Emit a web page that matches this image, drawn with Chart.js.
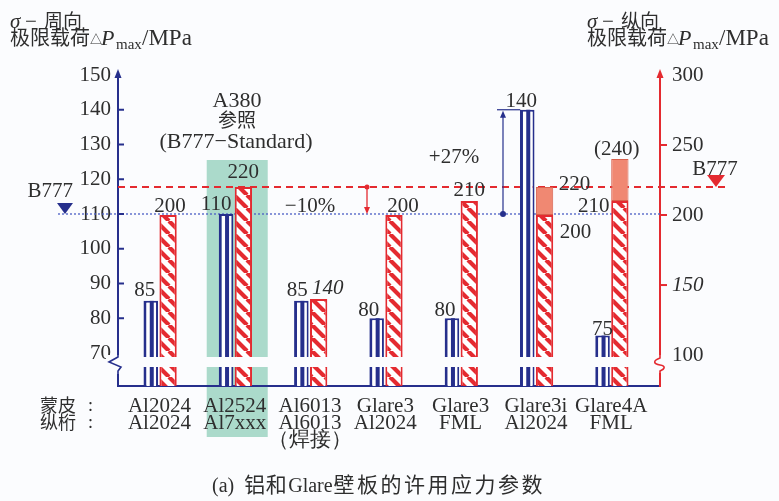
<!DOCTYPE html>
<html><head><meta charset="utf-8">
<script src="https://cdn.jsdelivr.net/npm/chart.js@4.4.1/dist/chart.umd.min.js"></script>
<style>html,body{margin:0;padding:0;background:#fbfcfe;}#wrap{width:779px;height:501px;}</style>
</head><body><div id="wrap"><canvas id="c" width="779" height="501"></canvas></div>
<script>
// ---- data ----
const skin = ['Al2024','Al2524','Al6013','Glare3','Glare3','Glare3i','Glare4A'];
const stringer = ['Al2024','Al7xxx','Al6013','Al2024','FML','Al2024','FML'];
const note = ['','','（焊接）','','','',''];
const hoopStress = [85,110,85,80,80,140,75];            // σ-周向 (left axis)
const longStress = [200,220,140,200,210,200,210];       // σ-纵向 (right axis)
const longPotential = [null,null,null,null,null,220,240]; // shaded upper values
const leftTicks = [70,80,90,100,110,120,130,140,150];
const rightTicks = [100,150,200,250,300];
const refHoop = 110;   // B777 周向
const refLong = 220;   // B777 纵向

// ---- styles ----
const BG='#fbfcfe', NAVY='#262f8c', RED='#e42a30', SALMON='#f08872', GREEN='#abdacb', TXT='#2e2e2e';
const SERIF='"Liberation Serif","Times New Roman",serif';
const CJK='"Noto Sans CJK SC","Noto Sans CJK JP",sans-serif';

const canvas=document.getElementById('c');
const c2d=canvas.getContext('2d');
function makeHatch(){
  const s=13, t=document.createElement('canvas'); t.width=s; t.height=s;
  const g=t.getContext('2d'); g.fillStyle='#fff'; g.fillRect(0,0,s,s);
  g.strokeStyle=RED; g.lineWidth=4.2; g.beginPath();
  for(let k=-1;k<=1;k++){ g.moveTo(k*s,0); g.lineTo(k*s+s,s); }
  g.stroke(); return c2d.createPattern(t,'repeat');
}
const hatch=makeHatch();

function txt(ctx,t,x,y,font,align,color){ctx.font=font;ctx.textAlign=align||'left';ctx.textBaseline='alphabetic';ctx.fillStyle=color||TXT;ctx.fillText(t,x,y);}
function runs(ctx,x,y,parts){ctx.textAlign='left';ctx.textBaseline='alphabetic';ctx.fillStyle=TXT;
  for(const p of parts){ctx.font=p[1];
    if(p[4]){for(const ch of p[0]){ctx.fillText(ch,x,y+(p[2]||0));x+=p[4];}}
    else{ctx.fillText(p[0],x,y+(p[2]||0));x+=ctx.measureText(p[0]).width;}
    x+=(p[3]||0);}}

const blueLab=[[-6,-5],[-10,-4],[-4,-5],[-8,-2],[-7,-2],[-6,-3],[0,-1]];
const redLab=[[2,-3],[0,-9],[9,-5],[9,-3],[0,-5],[31,23],[-26,11]];
const extLab={5:[30,3,false],6:[-3,-4,true]};

const deco={
  id:'deco',
  beforeDraw(chart){
    const {ctx}=chart; const xs=chart.scales.x;
    ctx.save(); ctx.fillStyle=BG; ctx.fillRect(0,0,chart.width,chart.height);
    const p=xs.getPixelForValue(1);
    ctx.fillStyle=GREEN; ctx.fillRect(p-28,160,61,277);
    ctx.restore();
  },
  beforeDatasetsDraw(chart){
    const {ctx,chartArea:a}=chart; const y=chart.scales.y, y2=chart.scales.y2;
    ctx.save();
    const yb=y.getPixelForValue(refHoop);
    ctx.strokeStyle='#4b5fc4'; ctx.lineWidth=1.3; ctx.setLineDash([2,2]);
    ctx.beginPath(); ctx.moveTo(58,yb); ctx.lineTo(a.right,yb); ctx.stroke();
    const yr=y2.getPixelForValue(refLong);
    ctx.strokeStyle=RED; ctx.lineWidth=2; ctx.setLineDash([7,5]);
    ctx.beginPath(); ctx.moveTo(a.left,yr); ctx.lineTo(726,yr); ctx.stroke();
    ctx.restore();
  },
  afterDatasetsDraw(chart){
    const {ctx,chartArea:a}=chart; const y=chart.scales.y, y2=chart.scales.y2;
    const m0=chart.getDatasetMeta(0), m1=chart.getDatasetMeta(1), m2=chart.getDatasetMeta(2);
    ctx.save();
    // inner stripe of blue bars
    ctx.fillStyle=NAVY;
    m0.data.forEach(el=>{ ctx.fillRect(el.x-1, el.y, 4, a.bottom-el.y); });
    // axis break band
    ctx.fillStyle=BG; ctx.fillRect(a.left+1,357,a.right-a.left-2,10);
    // left axis break
    ctx.fillRect(106,355,18,19);
    ctx.strokeStyle=NAVY; ctx.lineWidth=1.6; ctx.beginPath();
    ctx.moveTo(a.left,354); ctx.lineTo(a.left,357); ctx.lineTo(109,362); ctx.lineTo(121,367); ctx.lineTo(a.left,371); ctx.lineTo(a.left,374); ctx.stroke();
    // right axis break
    ctx.fillStyle=BG; ctx.fillRect(652,355,16,18);
    ctx.strokeStyle=RED; ctx.beginPath();
    ctx.moveTo(a.right,354); ctx.lineTo(a.right,358);
    ctx.bezierCurveTo(652,361,654,364,a.right,365); ctx.bezierCurveTo(666,366,665,369,a.right,371); ctx.lineTo(a.right,374); ctx.stroke();
    // axis arrows
    ctx.fillStyle=NAVY; ctx.beginPath(); ctx.moveTo(a.left,69); ctx.lineTo(a.left-3.5,78); ctx.lineTo(a.left+3.5,78); ctx.fill();
    ctx.fillStyle=RED; ctx.beginPath(); ctx.moveTo(a.right,69); ctx.lineTo(a.right-3.5,78); ctx.lineTo(a.right+3.5,78); ctx.fill();
    // tick marks
    ctx.lineWidth=2; ctx.strokeStyle=NAVY;
    leftTicks.forEach(v=>{ if(v>70&&v<150){const py=y.getPixelForValue(v); ctx.beginPath(); ctx.moveTo(a.left,py); ctx.lineTo(a.left+6,py); ctx.stroke();}});
    ctx.strokeStyle=RED;
    rightTicks.forEach(v=>{ if(v>100&&v<300){const py=y2.getPixelForValue(v); ctx.beginPath(); ctx.moveTo(a.right,py); ctx.lineTo(a.right+7,py); ctx.stroke();}});
    // value labels
    const F='21px '+SERIF, FI='italic 21px '+SERIF;
    m0.data.forEach((el,i)=>{ txt(ctx,String(hoopStress[i]),el.x+blueLab[i][0],el.y+blueLab[i][1],F,'center'); });
    m1.data.forEach((el,i)=>{ txt(ctx,String(longStress[i]),el.x+redLab[i][0],el.y+redLab[i][1],i===2?FI:F,'center'); });
    m2.data.forEach((el,i)=>{ const s=extLab[i]; if(!s||longPotential[i]==null) return;
      txt(ctx,s[2]?'('+longPotential[i]+')':String(longPotential[i]),el.x+s[0],el.y+s[1],F,'center'); });
    // reference annotations
    const yb=y.getPixelForValue(refHoop), yr=y2.getPixelForValue(refLong);
    txt(ctx,'A380',237,107,'22px '+SERIF,'center');
    txt(ctx,'参照',237,127,'19px '+CJK,'center');
    txt(ctx,'(B777−Standard)',236,148,'22px '+SERIF,'center');
    txt(ctx,'−10%',310,212,F,'center');
    txt(ctx,'+27%',454,163,F,'center');
    // red arrow
    ctx.strokeStyle=RED; ctx.fillStyle=RED; ctx.lineWidth=1.3;
    ctx.beginPath(); ctx.moveTo(367,yr); ctx.lineTo(367,yb-4); ctx.stroke();
    ctx.beginPath(); ctx.arc(367,yr,2.5,0,Math.PI*2); ctx.fill();
    ctx.beginPath(); ctx.moveTo(367,yb); ctx.lineTo(364,yb-7); ctx.lineTo(370,yb-7); ctx.fill();
    // blue arrow to Glare3i
    const e5=m0.data[5]; const top=e5.y;
    ctx.strokeStyle=NAVY; ctx.fillStyle=NAVY; ctx.lineWidth=1.2;
    ctx.beginPath(); ctx.moveTo(503,yb); ctx.lineTo(503,top+4); ctx.stroke();
    ctx.beginPath(); ctx.moveTo(497,top); ctx.lineTo(e5.x-7,top); ctx.stroke();
    ctx.beginPath(); ctx.arc(503,yb,3,0,Math.PI*2); ctx.fill();
    ctx.beginPath(); ctx.moveTo(503,top+1); ctx.lineTo(500,top+8); ctx.lineTo(506,top+8); ctx.fill();
    // B777 markers
    txt(ctx,'B777',73,197,F,'right');
    ctx.fillStyle=NAVY; ctx.beginPath(); ctx.moveTo(57,203); ctx.lineTo(73,203); ctx.lineTo(65,yb); ctx.fill();
    txt(ctx,'B777',715,175,F,'center');
    ctx.fillStyle=RED; ctx.beginPath(); ctx.moveTo(707,175); ctx.lineTo(725,175); ctx.lineTo(716,yr); ctx.fill();
    ctx.restore();
  },
  afterDraw(chart){
    const {ctx}=chart; ctx.save();
    [[0,'周向'],[577,'纵向']].forEach(([o,w])=>{
      txt(ctx,'σ',10+o,28,'italic 21px '+SERIF);
      txt(ctx,'−',25+o,28,'21px '+SERIF);
      txt(ctx,w,44+o,28,'19px '+CJK);
      txt(ctx,'极限载荷',10+o,45,'20px '+CJK);
      txt(ctx,'△',90+o,44,'12px '+CJK);
      txt(ctx,'P',101+o,45,'italic 22px '+SERIF);
      txt(ctx,'max',116+o,49,'15px '+SERIF);
      txt(ctx,'/MPa',142+o,45,'23px '+SERIF);
    });
    txt(ctx,'蒙皮',40,412,'18px '+CJK); txt(ctx,':',88,411,'18px '+SERIF);
    txt(ctx,'纵桁',40,429,'18px '+CJK); txt(ctx,':',88,428,'18px '+SERIF);
    runs(ctx,212,492,[['(a)','20px '+SERIF,0,10],['铝和','21px '+CJK,0,1,21.5],['Glare','20px '+SERIF,0,1],['壁板的许用应力参数','21px '+CJK,0,0,23.5]]);
    ctx.restore();
  }
};

new Chart(canvas,{
  type:'bar',
  data:{datasets:[
    {label:'σ-周向',data:hoopStress.map((v,i)=>({x:i,y:v})),yAxisID:'y',stack:'hoop',barPercentage:0.84,
     backgroundColor:'#ffffff',borderColor:NAVY,borderWidth:{left:3,right:2,top:2,bottom:0},borderSkipped:'start',clip:0},
    {label:'σ-纵向',data:longStress.map((v,i)=>({x:i,y:v})),yAxisID:'y2',stack:'long',barPercentage:1,
     backgroundColor:hatch,borderColor:RED,borderWidth:{left:2,right:2,top:2,bottom:0},borderSkipped:'start',clip:0},
    {label:'潜力',data:longPotential.map((v,i)=>({x:i,y:v==null?null:v-longStress[i]})),yAxisID:'y2',stack:'long',barPercentage:1,
     backgroundColor:SALMON,borderColor:'#d8604c',borderWidth:1,borderSkipped:false,clip:0}
  ]},
  options:{
    responsive:false,animation:false,devicePixelRatio:1,
    layout:{padding:{top:75,left:0,right:0,bottom:0}},
    plugins:{legend:{display:false},tooltip:{enabled:false}},
    datasets:{bar:{categoryPercentage:0.46}},
    scales:{
      x:{type:'linear',offset:false,min:-0.55,max:6.648,grid:{display:false,drawTicks:false,offset:false},border:{color:NAVY,width:2},
         afterBuildTicks:s=>{s.ticks=skin.map((_,i)=>({value:i}));},
         afterFit:s=>{s.height=115;},
         ticks:{autoSkip:false,maxRotation:0,minRotation:0,padding:12,color:TXT,font:{family:SERIF,size:21,lineHeight:0.81},
           callback:(v)=>{const i=Math.round(v);const l=[skin[i],stringer[i]];if(note[i])l.push(note[i]);return l;}}},
      y:{position:'left',min:60.5,max:150,grid:{display:false,drawTicks:false},border:{color:NAVY,width:2},
         afterBuildTicks:s=>{s.ticks=leftTicks.map(v=>({value:v}));},
         afterFit:s=>{s.width=118;},
         ticks:{padding:7,color:TXT,font:{family:SERIF,size:21}}},
      y2:{position:'right',min:77.9,max:300,grid:{display:false,drawTicks:false},border:{color:RED,width:2},
         afterBuildTicks:s=>{s.ticks=rightTicks.map(v=>({value:v}));},
         afterFit:s=>{s.width=119;},
         ticks:{padding:12,color:TXT,font:(c)=>({family:SERIF,size:21,style:(c.tick&&c.tick.value===150)?'italic':'normal'})}}
    }
  },
  plugins:[deco]
});
</script></body></html>
